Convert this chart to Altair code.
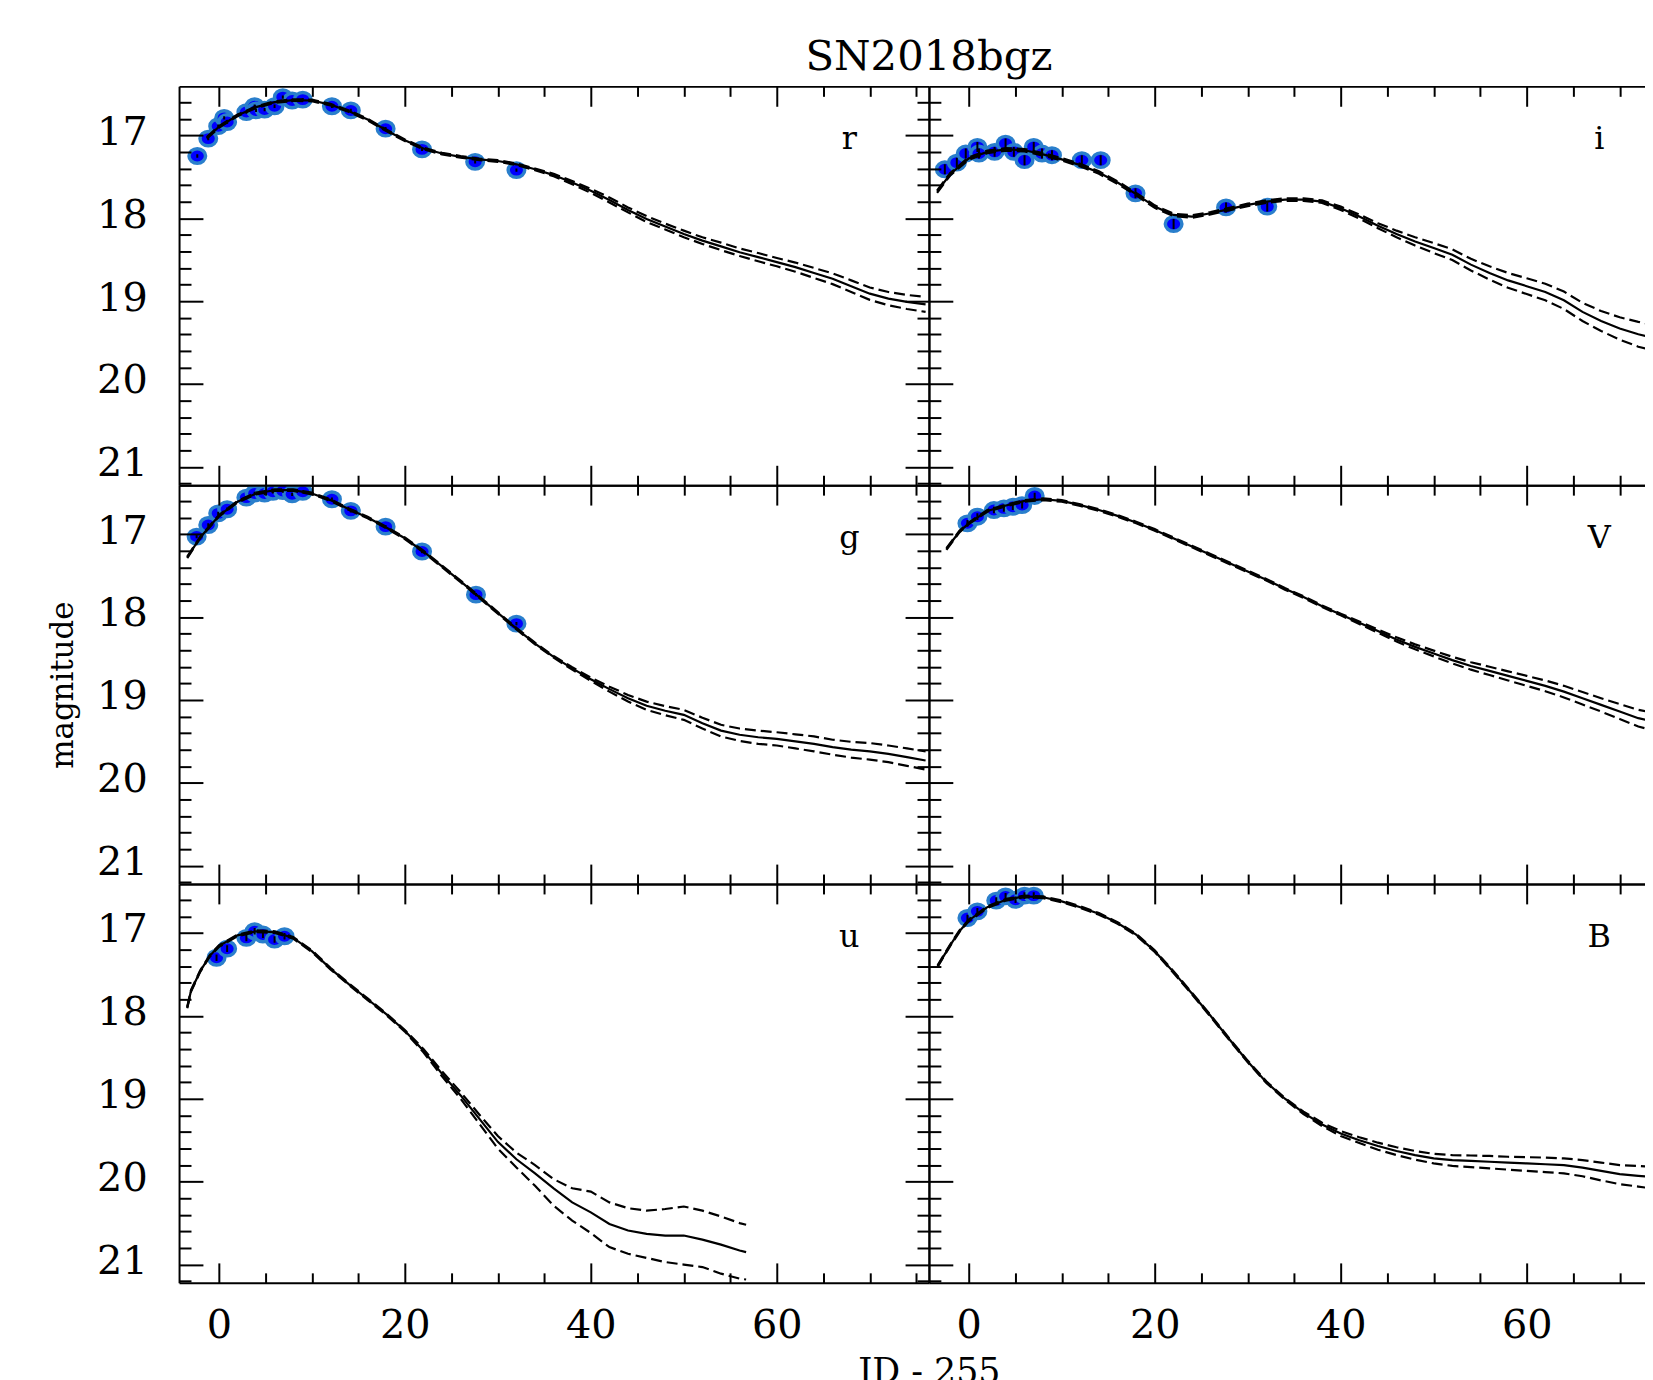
import altair as alt
import pandas as pd

FONT = "DejaVu Serif"
FILL = "#0000ff"
EDGE = "#2a7fcc"

# ---------------- axes ----------------
Y_MAJOR = [17, 18, 19, 20, 21]
Y_MINOR = [16.6, 16.8, 17.2, 17.4, 17.6, 17.8, 18.2, 18.4, 18.6, 18.8,
           19.2, 19.4, 19.6, 19.8, 20.2, 20.4, 20.6, 20.8, 21.2]
X_MAJOR = [0, 20, 40, 60]
X_MINOR_L = [5, 10, 15, 25, 30, 35, 45, 50, 55, 65, 70, 75]
X_MINOR_R = [5, 10, 15, 25, 30, 35, 45, 50, 55, 65, 70]
YDOM = [16.41, 21.22]
XDOM_L = [-4.28, 76.36]
XDOM_R = [-4.28, 72.72]
W_L, W_R, H = 754, 720, 401
BAND_LABEL_X = 67.8
BAND_LABEL_Y = 17.05

# ---------------- r ----------------
r_mx = [-1.3, 0, 2, 4, 6, 8, 10, 12, 14, 16, 18, 20, 22, 24, 26, 28, 30, 32, 34, 36,
        38, 40, 42, 44, 46, 48, 50, 52, 54, 56, 58, 60, 62, 64, 66, 68, 70, 72, 74, 76]
r_mod = [17.03, 16.90, 16.76, 16.66, 16.60, 16.575, 16.58, 16.63, 16.71, 16.81, 16.94, 17.06,
         17.16, 17.22, 17.26, 17.29, 17.31, 17.35, 17.41, 17.48, 17.57, 17.67, 17.78, 17.90,
         18.01, 18.10, 18.19, 18.27, 18.34, 18.41, 18.47, 18.53, 18.59, 18.66, 18.73, 18.82,
         18.91, 18.97, 19.01, 19.04]
r_up = [17.02, 16.89, 16.75, 16.65, 16.59, 16.565, 16.57, 16.62, 16.70, 16.80, 16.93, 17.05,
        17.15, 17.21, 17.25, 17.28, 17.30, 17.34, 17.40, 17.465, 17.55, 17.645, 17.75, 17.87,
        17.975, 18.065, 18.15, 18.23, 18.295, 18.365, 18.42, 18.48, 18.535, 18.60, 18.665, 18.75,
        18.835, 18.89, 18.925, 18.95]
r_lo = [17.04, 16.91, 16.77, 16.67, 16.61, 16.585, 16.59, 16.64, 16.72, 16.82, 16.95, 17.07,
        17.17, 17.23, 17.27, 17.30, 17.32, 17.36, 17.42, 17.495, 17.59, 17.695, 17.81, 17.93,
        18.045, 18.135, 18.23, 18.31, 18.385, 18.455, 18.52, 18.58, 18.645, 18.72, 18.795, 18.89,
        18.985, 19.05, 19.095, 19.13]
r_px = [-2.32, -1.14, -0.07, 0.57, 0.89, 2.96, 3.85, 4.0, 4.92, 5.99, 6.88, 7.88, 9.02,
        12.16, 14.19, 17.93, 21.85, 27.56, 32.0]
r_pm = [17.25, 17.04, 16.89, 16.79, 16.84, 16.72, 16.65, 16.70, 16.69, 16.65, 16.54, 16.58, 16.57,
        16.65, 16.70, 16.92, 17.17, 17.32, 17.42]
r_pe = [0.02, 0.02, 0.02, 0.02, 0.02, 0.02, 0.02, 0.02, 0.02, 0.02, 0.02, 0.02, 0.02,
        0.02, 0.02, 0.02, 0.02, 0.02, 0.02]

# ---------------- i ----------------
i_mx = [-3.4, -2, 0, 2, 4, 6, 8, 10, 12, 14, 16, 18, 20, 22, 24, 26, 28, 30, 32, 34,
        36, 38, 40, 42, 44, 46, 48, 50, 52, 54, 56, 58, 60, 62, 64, 66, 68, 70, 72, 74]
i_mod = [17.68, 17.47, 17.28, 17.20, 17.17, 17.18, 17.23, 17.29, 17.36, 17.45, 17.57, 17.71,
         17.86, 17.96, 17.98, 17.94, 17.89, 17.84, 17.80, 17.775, 17.775, 17.80, 17.88, 17.98,
         18.09, 18.19, 18.28, 18.36, 18.44, 18.56, 18.66, 18.75, 18.82, 18.89, 18.99, 19.13,
         19.24, 19.33, 19.40, 19.45]
i_up = [17.665, 17.455, 17.265, 17.185, 17.155, 17.165, 17.215, 17.275, 17.345, 17.435, 17.555,
        17.695, 17.845, 17.945, 17.965, 17.925, 17.875, 17.825, 17.785, 17.76, 17.76, 17.785,
        17.86, 17.955, 18.06, 18.15, 18.23, 18.30, 18.375, 18.49, 18.58, 18.66, 18.725, 18.79,
        18.885, 19.02, 19.12, 19.195, 19.25, 19.295]
i_lo = [17.695, 17.485, 17.295, 17.215, 17.185, 17.195, 17.245, 17.305, 17.375, 17.465, 17.585,
        17.725, 17.875, 17.975, 17.995, 17.955, 17.905, 17.855, 17.815, 17.79, 17.79, 17.815,
        17.90, 18.005, 18.12, 18.23, 18.33, 18.42, 18.505, 18.63, 18.74, 18.84, 18.915, 18.99,
        19.095, 19.24, 19.36, 19.465, 19.55, 19.605]
i_px = [-2.57, -1.28, -0.32, 0.93, 1.1, 2.78, 3.96, 4.85, 6.0, 6.99, 7.88, 8.95, 12.16, 14.19,
        17.93, 22.03, 27.67, 32.1]
i_pm = [17.41, 17.33, 17.22, 17.14, 17.22, 17.20, 17.10, 17.20, 17.30, 17.14, 17.22, 17.24,
        17.30, 17.30, 17.70, 18.07, 17.87, 17.86]
i_pe = [0.06, 0.06, 0.06, 0.06, 0.06, 0.06, 0.06, 0.06, 0.06, 0.06, 0.06, 0.06, 0.06, 0.06,
        0.06, 0.06, 0.06, 0.06]

# ---------------- g ----------------
g_mx = [-3.4, -2, 0, 2, 4, 6, 8, 10, 12, 14, 16, 18, 20, 22, 24, 26, 28, 30, 32, 34, 36,
        38, 40, 42, 44, 46, 48, 50, 52, 54, 56, 58, 60, 62, 64, 66, 68, 70, 72, 74, 76]
g_mod = [17.28, 17.04, 16.78, 16.61, 16.51, 16.47, 16.47, 16.51, 16.59, 16.70, 16.80, 16.92,
         17.05, 17.21, 17.39, 17.57, 17.76, 17.95, 18.14, 18.32, 18.48, 18.62, 18.75, 18.87,
         18.98, 19.07, 19.13, 19.18, 19.28, 19.37, 19.42, 19.45, 19.47, 19.50, 19.53, 19.57,
         19.60, 19.62, 19.65, 19.69, 19.73]
g_up = [17.27, 17.03, 16.77, 16.60, 16.50, 16.46, 16.46, 16.50, 16.58, 16.69, 16.79, 16.91,
        17.04, 17.20, 17.38, 17.56, 17.75, 17.94, 18.13, 18.31, 18.47, 18.605, 18.73, 18.84,
        18.94, 19.02, 19.075, 19.12, 19.215, 19.30, 19.345, 19.37, 19.39, 19.415, 19.44, 19.48,
        19.505, 19.52, 19.55, 19.585, 19.62]
g_lo = [17.29, 17.05, 16.79, 16.62, 16.52, 16.48, 16.48, 16.52, 16.60, 16.71, 16.81, 16.93,
        17.06, 17.22, 17.40, 17.58, 17.77, 17.96, 18.15, 18.33, 18.49, 18.635, 18.77, 18.90,
        19.02, 19.12, 19.185, 19.24, 19.345, 19.44, 19.495, 19.53, 19.55, 19.585, 19.62, 19.66,
        19.695, 19.72, 19.75, 19.795, 19.84]
g_px = [-2.39, -1.14, -0.07, 0.89, 2.96, 3.85, 4.92, 5.81, 6.88, 7.88, 9.02, 12.16, 14.19,
        17.93, 21.85, 27.65, 32.0]
g_pm = [17.03, 16.89, 16.75, 16.70, 16.56, 16.51, 16.51, 16.49, 16.48, 16.52, 16.49, 16.58,
        16.72, 16.91, 17.21, 17.73, 18.08]
g_pe = [0.02, 0.02, 0.02, 0.02, 0.02, 0.02, 0.02, 0.02, 0.02, 0.02, 0.02, 0.02, 0.02,
        0.02, 0.02, 0.02, 0.02]

# ---------------- V ----------------
V_mx = [-2.4, -1, 0, 2, 4, 6, 8, 10, 12, 14, 16, 18, 20, 22, 24, 26, 28, 30, 32, 34,
        36, 38, 40, 42, 44, 46, 48, 50, 52, 54, 56, 58, 60, 62, 64, 66, 68, 70, 72, 74]
V_mod = [17.18, 16.97, 16.87, 16.72, 16.655, 16.60, 16.58, 16.60, 16.65, 16.71, 16.78, 16.86,
         16.95, 17.05, 17.15, 17.25, 17.35, 17.45, 17.55, 17.66, 17.76, 17.87, 17.97, 18.07,
         18.17, 18.27, 18.36, 18.44, 18.52, 18.59, 18.65, 18.71, 18.77, 18.83, 18.90, 18.98,
         19.06, 19.14, 19.22, 19.27]
V_up = [17.17, 16.96, 16.86, 16.71, 16.645, 16.59, 16.57, 16.59, 16.64, 16.70, 16.77, 16.85,
        16.94, 17.04, 17.14, 17.24, 17.34, 17.44, 17.54, 17.65, 17.75, 17.86, 17.96, 18.055,
        18.15, 18.245, 18.33, 18.405, 18.48, 18.545, 18.60, 18.655, 18.71, 18.765, 18.83, 18.905,
        18.98, 19.05, 19.12, 19.16]
V_lo = [17.19, 16.98, 16.88, 16.73, 16.665, 16.61, 16.59, 16.61, 16.66, 16.72, 16.79, 16.87,
        16.96, 17.06, 17.16, 17.26, 17.36, 17.46, 17.56, 17.67, 17.77, 17.88, 17.98, 18.085,
        18.19, 18.295, 18.39, 18.475, 18.56, 18.635, 18.70, 18.765, 18.83, 18.895, 18.97, 19.055,
        19.14, 19.23, 19.32, 19.38]
V_px = [-0.14, 0.93, 2.71, 3.78, 4.74, 5.74, 7.09]
V_pm = [16.87, 16.79, 16.71, 16.69, 16.67, 16.65, 16.54]
V_pe = [0.04, 0.04, 0.04, 0.04, 0.04, 0.04, 0.04]

# ---------------- u ----------------
u_mx = [-3.4, -3, -2, -1, 0, 2, 4, 6, 8, 10, 12, 14, 16, 18, 20, 22, 24, 26, 28, 30,
        32, 34, 36, 38, 40, 42, 44, 46, 48, 50, 52, 54, 56, 56.7]
u_mod = [17.90, 17.70, 17.46, 17.28, 17.16, 17.03, 16.98, 16.99, 17.06, 17.22, 17.43, 17.62,
         17.80, 17.98, 18.18, 18.42, 18.70, 18.96, 19.24, 19.52, 19.73, 19.90, 20.08, 20.25,
         20.37, 20.51, 20.59, 20.63, 20.65, 20.65, 20.70, 20.76, 20.83, 20.85]
u_up = [17.89, 17.69, 17.45, 17.27, 17.15, 17.02, 16.97, 16.98, 17.05, 17.21, 17.42, 17.61,
        17.79, 17.97, 18.17, 18.40, 18.67, 18.92, 19.19, 19.45, 19.65, 19.80, 19.97, 20.08,
        20.12, 20.25, 20.32, 20.35, 20.33, 20.30, 20.35, 20.42, 20.50, 20.52]
u_lo = [17.91, 17.71, 17.47, 17.29, 17.17, 17.04, 16.99, 17.00, 17.07, 17.23, 17.44, 17.63,
        17.81, 17.99, 18.19, 18.44, 18.73, 19.00, 19.30, 19.60, 19.83, 20.05, 20.29, 20.47,
        20.62, 20.79, 20.87, 20.92, 20.97, 21.00, 21.03, 21.11, 21.17, 21.18]
u_px = [-0.25, 0.89, 2.96, 3.85, 4.74, 5.99, 7.06]
u_pm = [17.30, 17.19, 17.06, 16.98, 17.02, 17.08, 17.04]
u_pe = [0.04, 0.04, 0.04, 0.04, 0.04, 0.04, 0.04]

# ---------------- B ----------------
B_mx = [-3.35, -2, -1, 0, 2, 4, 6, 8, 10, 12, 14, 16, 18, 20, 22, 24, 26, 28, 30, 32, 34,
        36, 38, 40, 42, 44, 46, 48, 50, 52, 54, 56, 58, 60, 62, 64, 66, 68, 70, 72, 74]
B_mod = [17.40, 17.15, 16.98, 16.85, 16.69, 16.60, 16.56, 16.57, 16.62, 16.69, 16.77, 16.88,
         17.02, 17.22, 17.47, 17.73, 18.00, 18.28, 18.55, 18.80, 19.00, 19.17, 19.31, 19.42,
         19.50, 19.57, 19.63, 19.68, 19.72, 19.74, 19.75, 19.76, 19.77, 19.78, 19.79, 19.80,
         19.83, 19.87, 19.91, 19.93, 19.95]
B_up = [17.39, 17.14, 16.97, 16.84, 16.68, 16.59, 16.55, 16.56, 16.61, 16.68, 16.76, 16.87,
        17.01, 17.21, 17.46, 17.72, 17.99, 18.27, 18.54, 18.79, 18.99, 19.155, 19.29, 19.39,
        19.465, 19.53, 19.585, 19.63, 19.665, 19.68, 19.685, 19.69, 19.70, 19.705, 19.71, 19.72,
        19.74, 19.77, 19.80, 19.81, 19.825]
B_lo = [17.41, 17.16, 16.99, 16.86, 16.70, 16.61, 16.57, 16.58, 16.63, 16.70, 16.78, 16.89,
        17.03, 17.23, 17.48, 17.74, 18.01, 18.29, 18.56, 18.81, 19.01, 19.185, 19.33, 19.45,
        19.535, 19.615, 19.68, 19.735, 19.78, 19.81, 19.825, 19.84, 19.855, 19.87, 19.885, 19.90,
        19.935, 19.985, 20.03, 20.06, 20.09]
B_px = [-0.14, 0.93, 2.96, 3.96, 5.03, 5.99, 6.99]
B_pm = [16.82, 16.74, 16.61, 16.56, 16.60, 16.55, 16.55]
B_pe = [0.04, 0.04, 0.04, 0.04, 0.04, 0.04, 0.04]

ELLIPSE = "M-1.15,0A1.15,1,0,1,1,1.15,0A1.15,1,0,1,1,-1.15,0Z"


def tick_axis(orient, offset, values, size, domain):
    return alt.Axis(orient=orient, offset=offset, values=values, ticks=True,
                    tickSize=size, tickWidth=2, tickColor="black", labels=False,
                    domain=domain, domainColor="black", domainWidth=2, grid=False,
                    title=None, zindex=1)


def panel(band, mx, mod, up, lo, px, pm, pe, W, xdom, xminor, left, bottom,
          title=None, ytitle=None, xtitle=None):
    xs = alt.Scale(domain=xdom, nice=False, zero=False)
    ys = alt.Scale(domain=YDOM, reverse=True, nice=False, zero=False)

    if left:
        yk = dict(orient="left", values=Y_MAJOR, ticks=False, tickSize=0, domain=False,
                  grid=False, labelFont=FONT, labelFontSize=40, labelColor="black",
                  labelPadding=32, labelOffset=-3)
        if ytitle:
            yk.update(title=ytitle, titleFont=FONT, titleFontSize=31,
                      titleFontWeight="normal", titleColor="black", titlePadding=17)
        else:
            yk.update(title=None)
        ylab = alt.Axis(**yk)
    else:
        ylab = None
    if bottom:
        xk = dict(orient="bottom", values=X_MAJOR, ticks=False, tickSize=0, domain=False,
                  grid=False, labelFont=FONT, labelFontSize=40, labelColor="black",
                  labelPadding=23)
        if xtitle:
            xk.update(title=xtitle, titleFont=FONT, titleFontSize=35,
                      titleFontWeight="normal", titleColor="black", titleX=W,
                      titleY=72, titleAlign="center", titleBaseline="top")
        else:
            xk.update(title=None)
        xlab = alt.Axis(**xk)
    else:
        xlab = None

    pts = pd.DataFrame({"x": px, "m": pm, "e": pe})
    points = alt.Chart(pts).mark_point(
        shape=ELLIPSE, filled=True, fill=FILL, stroke=EDGE, strokeWidth=3.5,
        size=210, opacity=1, clip=True
    ).encode(
        x=alt.X("x:Q", scale=xs, axis=xlab),
        y=alt.Y("m:Q", scale=ys, axis=ylab),
    )
    errs = alt.Chart(pts).transform_calculate(
        lo="datum.m - datum.e", hi="datum.m + datum.e"
    ).mark_rule(color="black", strokeWidth=2, clip=True).encode(
        x=alt.X("x:Q", scale=xs, axis=tick_axis("top", -H, X_MAJOR, 20, True)),
        y=alt.Y("lo:Q", scale=ys, axis=tick_axis("right", -W, Y_MAJOR, 24, True)),
        y2="hi:Q",
    )
    model = alt.Chart(pd.DataFrame({"x": mx, "m": mod})).mark_line(
        color="black", strokeWidth=2.2, clip=True
    ).encode(
        x=alt.X("x:Q", scale=xs, axis=tick_axis("top", -H, xminor, 10, False)),
        y=alt.Y("m:Q", scale=ys, axis=tick_axis("right", -W, Y_MINOR, 12, False)),
    )
    upper = alt.Chart(pd.DataFrame({"x": mx, "m": up})).mark_line(
        color="black", strokeWidth=2.2, strokeDash=[11, 5], clip=True
    ).encode(
        x=alt.X("x:Q", scale=xs, axis=tick_axis("bottom", -H, X_MAJOR, 20, True)),
        y=alt.Y("m:Q", scale=ys,
                axis=tick_axis("left", -W, Y_MAJOR, 24, True) if left else None),
    )
    lower = alt.Chart(pd.DataFrame({"x": mx, "m": lo})).mark_line(
        color="black", strokeWidth=2.2, strokeDash=[11, 5], clip=True
    ).encode(
        x=alt.X("x:Q", scale=xs, axis=tick_axis("bottom", -H, xminor, 10, False)),
        y=alt.Y("m:Q", scale=ys,
                axis=tick_axis("left", -W, Y_MINOR, 12, False) if left else None),
    )
    label = alt.Chart(pd.DataFrame({"x": [BAND_LABEL_X], "m": [BAND_LABEL_Y], "t": [band]})).mark_text(
        font=FONT, fontSize=32, color="black", align="center", baseline="middle"
    ).encode(
        x=alt.X("x:Q", scale=xs, axis=None),
        y=alt.Y("m:Q", scale=ys, axis=None),
        text="t:N",
    )
    ch = alt.layer(points, errs, model, upper, lower, label).resolve_axis(
        x="independent", y="independent"
    )
    if title:
        ch = ch.properties(width=W, height=H, title=alt.TitleParams(
            text=title, anchor="end", align="center", frame="group", font=FONT,
            fontSize=42, fontWeight="normal", color="black", offset=6))
    else:
        ch = ch.properties(width=W, height=H)
    return ch


p_r = panel("r", r_mx, r_mod, r_up, r_lo, r_px, r_pm, r_pe, W_L, XDOM_L, X_MINOR_L,
            True, False, title="SN2018bgz")
p_i = panel("i", i_mx, i_mod, i_up, i_lo, i_px, i_pm, i_pe, W_R, XDOM_R, X_MINOR_R,
            False, False)
p_g = panel("g", g_mx, g_mod, g_up, g_lo, g_px, g_pm, g_pe, W_L, XDOM_L, X_MINOR_L,
            True, False, ytitle="magnitude")
p_V = panel("V", V_mx, V_mod, V_up, V_lo, V_px, V_pm, V_pe, W_R, XDOM_R, X_MINOR_R,
            False, False)
p_u = panel("u", u_mx, u_mod, u_up, u_lo, u_px, u_pm, u_pe, W_L, XDOM_L, X_MINOR_L,
            True, True, xtitle="JD - 255")
p_B = panel("B", B_mx, B_mod, B_up, B_lo, B_px, B_pm, B_pe, W_R, XDOM_R, X_MINOR_R,
            False, True)

chart = alt.concat(p_r, p_i, p_g, p_V, p_u, p_B, columns=2, spacing=0,
                   bounds="flush").properties(
    padding={"left": 40, "top": 25, "right": 0, "bottom": 0},
    background="white",
).configure_view(stroke=None)

chart.save("out.html", embed_options={"renderer": "svg", "actions": False})
